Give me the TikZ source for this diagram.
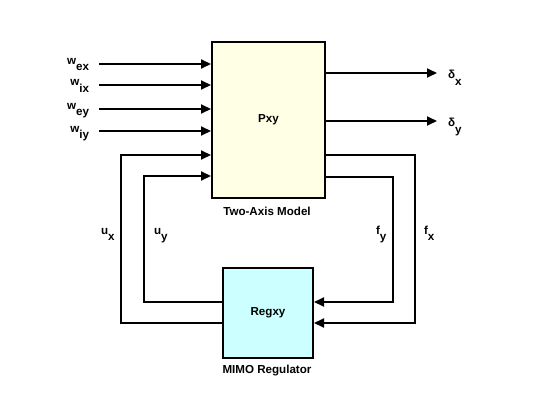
\documentclass[tikz,border=0pt]{standalone}
\usepackage{fontspec}
\setmainfont{Liberation Sans}
\usetikzlibrary{arrows.meta}
\definecolor{modelfill}{HTML}{FFFFE6}
\definecolor{regfill}{HTML}{CCFFFF}
\newcommand{\lsub}[1]{\raisebox{-6pt}{#1}}

\begin{document}
\begin{tikzpicture}[x=1pt, y=-1pt, line width=2pt, >={Triangle[length=10pt,width=9pt]},
	lbl/.style={font=\fontsize{11.6}{13}\selectfont\bfseries, inner sep=1pt}]
\useasboundingbox (0,0) rectangle (560,420);

\node[draw, fill=modelfill, minimum width=113pt, minimum height=156pt, lbl] (pxy) at (268.5,120) {Pxy};
\node[lbl, anchor=base] (pxylabel) at (267,215) {Two-Axis Model};
\node[draw, fill=regfill, minimum width=90pt, minimum height=90pt, lbl] (regxy) at (268,313) {Regxy};
\node[lbl, anchor=base] (reglabel) at (267,373) {MIMO Regulator};

% disturbances
\foreach \nm/\y/\s in {wex/64/ex, wix/85/ix, wey/109/ey, wiy/131/iy}{
	\coordinate (\nm) at (99,\y);
	\node[lbl, anchor=base east] (\nm label) at (91,\y+1) {w\lsub{\s}};
	\draw[->] (\nm) -- (\nm -| pxy.west);
}

% outputs
\foreach \nm/\y/\s in {dx/73/x, dy/121/y}{
	\coordinate (\nm) at (437,\y);
	\node[lbl, anchor=base west] (\nm label) at (446,\y+6) {δ\lsub{\s}};
	\draw[->] (\nm -| pxy.east) -- (\nm);
}

% feedback loops
\coordinate (ux) at (121,155);
\coordinate (ux low) at (121,323);
\coordinate (uy) at (144,176);
\coordinate (uy low) at (144,302);
\coordinate (fx) at (415,155);
\coordinate (fx low) at (415,323);
\coordinate (fy) at (393,177);
\coordinate (fy low) at (393,302);
\draw[->] (ux low -| regxy.west) -- (ux low) -- (ux) -- (ux -| pxy.west);
\draw[->] (uy low -| regxy.west) -- (uy low) -- (uy) -- (uy -| pxy.west);
\draw[->] (fx -| pxy.east) -- (fx) -- (fx low) -- (fx low -| regxy.east);
\draw[->] (fy -| pxy.east) -- (fy) -- (fy low) -- (fy low -| regxy.east);

\node[lbl, anchor=base west] (uxlabel) at (99,234) {u\lsub{x}};
\node[lbl, anchor=base west] (uylabel) at (152,234) {u\lsub{y}};
\node[lbl, anchor=base west] (fylabel) at (374,234) {f\lsub{y}};
\node[lbl, anchor=base west] (fxlabel) at (422,234) {f\lsub{x}};
\end{tikzpicture}
\end{document}
